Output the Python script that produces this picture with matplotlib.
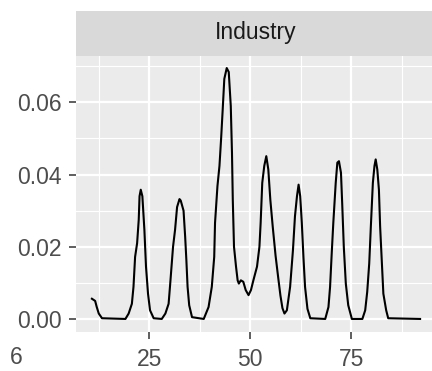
import matplotlib.pyplot as plt
from matplotlib.ticker import MultipleLocator

# density of start values, Industry facet
value = [10.8, 11.6, 12.0, 12.5, 13.3, 19.1, 19.9, 20.7, 21.1, 21.5, 22.0, 22.4, 22.6, 22.9, 23.3,
         23.8, 24.2, 24.7, 25.2, 26.1, 28.1, 29.0, 29.8, 30.2, 30.9, 31.4, 31.9, 32.5, 32.8, 33.5,
         33.9, 34.2, 34.5, 34.9, 35.6, 38.5, 39.7, 40.5, 41.1, 41.3, 41.9, 42.4, 42.8, 43.2, 43.6,
         44.2, 44.7, 45.2, 45.5, 45.7, 46.0, 46.5, 46.9, 47.2, 47.7, 48.3, 48.9, 49.6, 50.2, 50.8,
         51.7, 52.3, 52.6, 53.0, 53.5, 54.0, 54.5, 55.0, 55.6, 56.3, 57.0, 57.5, 58.0, 58.5, 59.1,
         59.9, 60.6, 61.1, 61.6, 62.0, 62.4, 62.8, 63.2, 63.6, 64.2, 64.9, 68.6, 69.4, 69.8, 70.2,
         70.6, 71.2, 71.6, 72.0, 72.5, 72.8, 73.2, 73.7, 74.3, 75.2, 77.8, 78.5, 79.0, 79.5, 79.9,
         80.4, 80.8, 81.1, 81.5, 81.9, 82.2, 82.6, 83.0, 83.7, 84.2, 92.1]
density = [0.0056, 0.0050, 0.0033, 0.0015, 0.0002, 0.0, 0.0015, 0.0042, 0.0089, 0.0172, 0.0210,
           0.0275, 0.0340, 0.0358, 0.0340, 0.0247, 0.0145, 0.0070, 0.0024, 0.0002, 0.0, 0.0015,
           0.0042, 0.0098, 0.0200, 0.0247, 0.0310, 0.0332, 0.0328, 0.0300, 0.0228, 0.0163, 0.0089,
           0.0038, 0.0005, 0.0, 0.0033, 0.0089, 0.0172, 0.0266, 0.0368, 0.0424, 0.0498, 0.0580,
           0.0665, 0.0695, 0.0684, 0.0590, 0.0460, 0.0330, 0.0200, 0.0145, 0.0107, 0.0098, 0.0107,
           0.0103, 0.0080, 0.0066, 0.0080, 0.0107, 0.0145, 0.0200, 0.0266, 0.0377, 0.0424, 0.0451,
           0.0414, 0.0330, 0.0255, 0.0175, 0.0110, 0.0065, 0.0030, 0.0015, 0.0024, 0.0089, 0.0190,
           0.0284, 0.0340, 0.0372, 0.0340, 0.0266, 0.0172, 0.0089, 0.0028, 0.0002, 0.0, 0.0033,
           0.0089, 0.0180, 0.0266, 0.0377, 0.0433, 0.0437, 0.0405, 0.0321, 0.0200, 0.0098, 0.0038,
           0.0, 0.0, 0.0024, 0.0075, 0.0154, 0.0256, 0.0377, 0.0424, 0.0442, 0.0414, 0.0358, 0.0256,
           0.0163, 0.0070, 0.0024, 0.0002, 0.0]
facet = "Industry"
x_ticks = [25, 50, 75]
y_ticks = [0.00, 0.02, 0.04, 0.06]

W, H = 432, 371
FS = 16.5
plt.rcParams['font.family'] = ['Liberation Sans', 'DejaVu Sans']
fig = plt.figure(figsize=(W / 100, H / 100), dpi=100)

# panel box in pixels: left, top, right, bottom
pl, pt, pr, pb = 75.5, 55.5, 436.5, 331.5
ax = fig.add_axes([pl / W, 1 - pb / H, (pr - pl) / W, (pb - pt) / H])
ax.set_facecolor('#EBEBEB')
for s in ax.spines.values():
    s.set_visible(False)

ax.plot(value, density, color='black', lw=1.5, zorder=3)

span = max(value) - min(value)
ax.set_xlim(min(value) - 0.05 * span, max(value) + 0.05 * span)
ax.set_ylim(-0.05 * max(density), 1.05 * max(density))

ax.set_xticks(x_ticks)
ax.set_yticks(y_ticks)
ax.set_yticklabels([f"{v:.2f}" for v in y_ticks])
ax.xaxis.set_minor_locator(MultipleLocator(12.5))
ax.yaxis.set_minor_locator(MultipleLocator(0.01))
ax.grid(which='major', color='white', lw=1.6, zorder=0)
ax.grid(which='minor', color='white', lw=0.8, zorder=0)
ax.set_axisbelow(True)
ax.tick_params(which='major', length=5, width=1.1, color='#333333',
               labelsize=FS, labelcolor='#4D4D4D')
ax.tick_params(axis='x', which='major', pad=7)
ax.tick_params(axis='y', which='major', pad=5)
ax.tick_params(which='minor', length=0)

# facet strip
strip = fig.add_axes([pl / W, 1 - pt / H, (pr - pl) / W, 45 / H])
strip.set_facecolor('#D9D9D9')
strip.set_xticks([])
strip.set_yticks([])
for s in strip.spines.values():
    s.set_visible(False)
strip.text(0.5, 0.5, facet, transform=strip.transAxes, ha='center', va='center',
           fontsize=FS, color='#1A1A1A')

fig.text(16 / W, 1 - 357 / H, "6", ha='center', va='center', fontsize=FS, color='#4D4D4D')

fig.savefig('out.png', dpi=100)
